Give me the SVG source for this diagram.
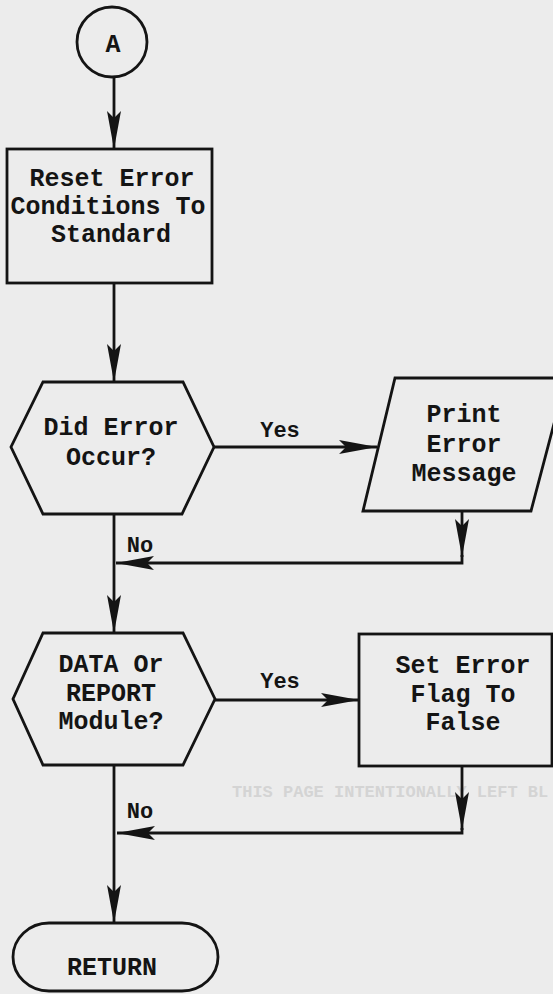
<svg xmlns="http://www.w3.org/2000/svg" width="553" height="994" viewBox="0 0 553 994">
<defs>
<style>
.bg{fill:#ececec}
.sh{fill:none;stroke:#141414;stroke-width:2.8;stroke-linejoin:miter}
.ln{fill:none;stroke:#141414;stroke-width:2.8}
.t{font-family:"Liberation Mono","Courier New",monospace;font-weight:bold;font-size:25px;fill:#141414;text-anchor:middle}
.lb{font-family:"Liberation Mono","Courier New",monospace;font-weight:bold;font-size:22px;fill:#141414;text-anchor:middle}
.ghost{font-family:"Liberation Mono","Courier New",monospace;font-weight:bold;font-size:17px;fill:#d4d4d4}
</style>
<marker id="ah" markerUnits="userSpaceOnUse" markerWidth="40" markerHeight="16" refX="38" refY="7" orient="auto">
<path d="M0,0 L38,7 L0,14 L7,7 Z" fill="#141414"/>
</marker>
</defs>
<rect class="bg" x="0" y="0" width="553" height="994"/>
<text class="ghost" x="232" y="797">THIS PAGE INTENTIONALLY LEFT BL</text>

<g id="connectors">
<path class="ln" d="M114,77 V149" marker-end="url(#ah)"/>
<path class="ln" d="M114,283 V382" marker-end="url(#ah)"/>
<path class="ln" d="M214,447 H377" marker-end="url(#ah)"/>
<text class="lb" x="280" y="437">Yes</text>
<path class="ln" d="M462,511 V557" marker-end="url(#ah)"/>
<path class="ln" d="M462,555 V563 H116" marker-end="url(#ah)"/>
<text class="lb" x="140" y="552">No</text>
<path class="ln" d="M114,514 V633" marker-end="url(#ah)"/>
<path class="ln" d="M215,700 H359" marker-end="url(#ah)"/>
<text class="lb" x="280" y="688">Yes</text>
<path class="ln" d="M462,766 V830" marker-end="url(#ah)"/>
<path class="ln" d="M462,828 V833 H117" marker-end="url(#ah)"/>
<text class="lb" x="140" y="818">No</text>
<path class="ln" d="M114,765 V923" marker-end="url(#ah)"/>
</g>

<g id="start">
<circle class="sh" cx="112" cy="42" r="35"/>
<text class="t" x="113" y="52">A</text>
</g>

<g id="reset">
<rect class="sh" x="7" y="149" width="205" height="134"/>
<text class="t" x="112" y="186">Reset Error</text>
<text class="t" x="108" y="214">Conditions To</text>
<text class="t" x="111" y="242">Standard</text>
</g>

<g id="did-error">
<polygon class="sh" points="43,382 183,382 214,447 182,514 43,514 11,447"/>
<text class="t" x="111" y="435">Did Error</text>
<text class="t" x="111" y="465">Occur?</text>
</g>

<g id="print-error">
<polygon class="sh" points="395,378 566,378 531,511 363,511"/>
<text class="t" x="464" y="422">Print</text>
<text class="t" x="464" y="452">Error</text>
<text class="t" x="464" y="481">Message</text>
</g>

<g id="data-report">
<polygon class="sh" points="43,633 183,633 215,699 183,765 43,765 13,699"/>
<text class="t" x="111" y="672">DATA Or</text>
<text class="t" x="111" y="701">REPORT</text>
<text class="t" x="111" y="729">Module?</text>
</g>

<g id="set-flag">
<rect class="sh" x="359" y="634" width="193" height="132"/>
<text class="t" x="463" y="673">Set Error</text>
<text class="t" x="463" y="702">Flag To</text>
<text class="t" x="463" y="730">False</text>
</g>

<g id="return">
<rect class="sh" x="13" y="923" width="205" height="68" rx="36" ry="34"/>
<text class="t" x="112" y="975">RETURN</text>
</g>
</svg>
